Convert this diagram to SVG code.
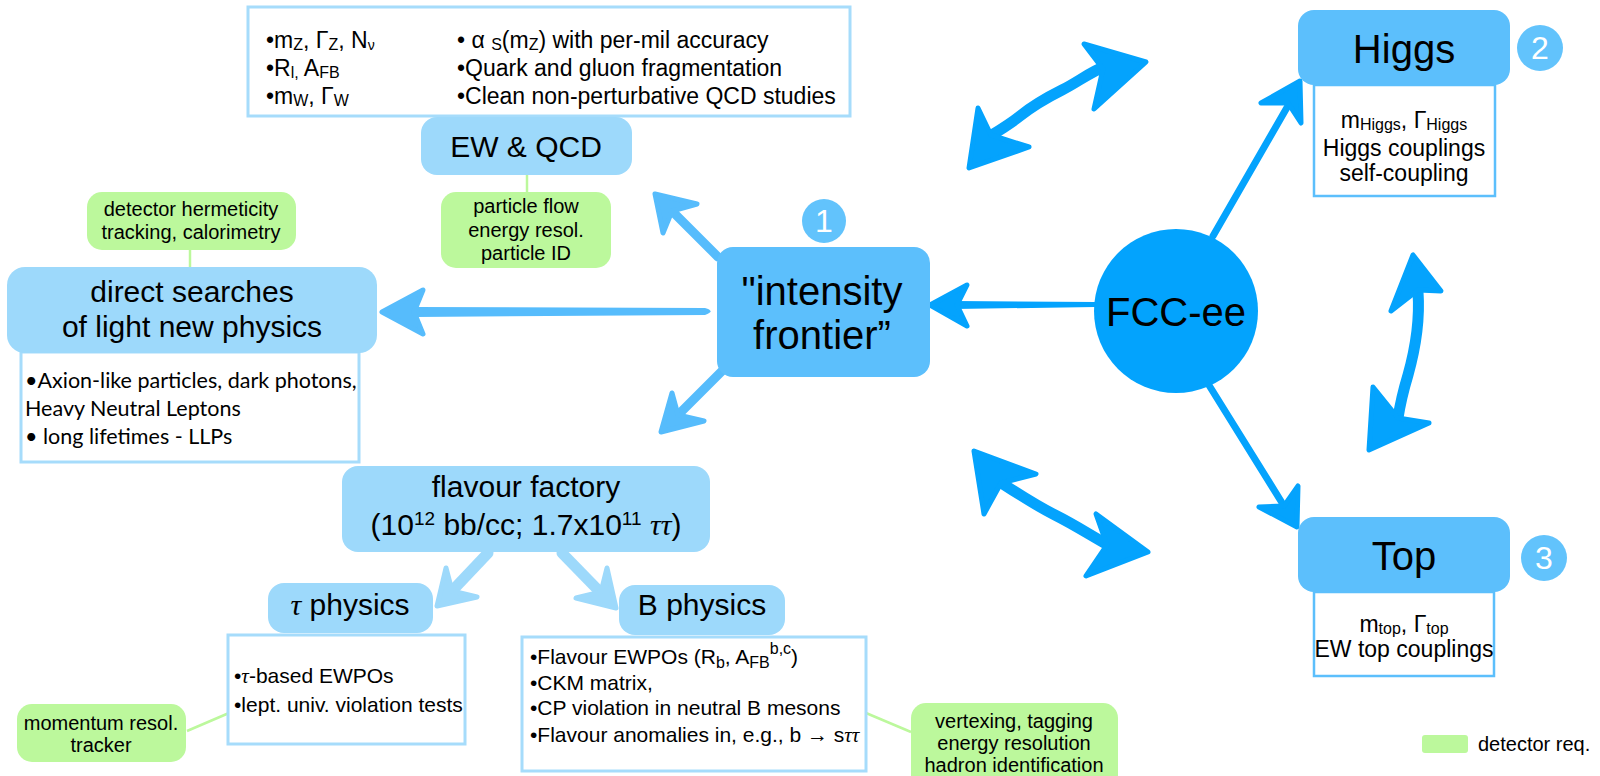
<svg xmlns="http://www.w3.org/2000/svg" width="1600" height="776" viewBox="0 0 1600 776">
<style>
  .t { font-family: "Liberation Sans", Arial, sans-serif; fill: #000; }
  .c { text-anchor: middle; }
  .gk { font-family: "Liberation Serif", "Times New Roman", serif; font-style: italic; }
  .lb { fill: #9dd9fb; }
  .mb { fill: #5cbffc; }
  .gr { fill: #bcf89c; }
  .det { fill: #fff; stroke: #a6dcfb; stroke-width: 3; }
  .det2 { fill: #fff; stroke: #5cbffc; stroke-width: 2.5; }
  .num { fill: #62c3fc; }
  .numt { font-family: "Liberation Sans", Arial, sans-serif; fill: #fff; font-size: 32px; text-anchor: middle; }
  .gl { stroke: #bcf89c; stroke-width: 2.5; fill: none; }
  .s1 { stroke: #56bcfc; stroke-width: 9; stroke-linecap: round; fill: none; }
  .h1 { fill: #56bcfc; stroke: #56bcfc; stroke-width: 5; stroke-linejoin: round; }
  .s2 { stroke: #04a3fd; stroke-width: 7; stroke-linecap: round; fill: none; }
  .s2w { stroke: #04a3fd; stroke-width: 11; stroke-linecap: round; stroke-linejoin: round; fill: none; }
  .h2 { fill: #04a3fd; stroke: #04a3fd; stroke-width: 5; stroke-linejoin: round; }
  .s3 { stroke: #9dd9fb; stroke-width: 11; stroke-linecap: round; fill: none; }
  .h3 { fill: #9dd9fb; stroke: #9dd9fb; stroke-width: 5; stroke-linejoin: round; }
</style>

<g id="connectors">
  <!-- detector requirement links -->
  <line class="gl" x1="527" y1="175" x2="527" y2="192"/>
  <line class="gl" x1="190" y1="250" x2="190" y2="267"/>
  <line class="gl" x1="187" y1="731" x2="229" y2="713"/>
  <line class="gl" x1="866" y1="713" x2="911" y2="732"/>

  <!-- intensity frontier -> direct searches -->
  <path d="M416,307 L705,308 Q716,311 705,315 L416,317 Z" fill="#56bcfc"/>
  <polygon class="h1" points="382,312 423,290 414,312 423,334"/>
  <!-- intensity frontier -> EW & QCD -->
  <line class="s1" x1="718" y1="257" x2="672" y2="211"/>
  <polygon class="h1" points="655,194 697,204 672,211 663,233"/>
  <!-- intensity frontier -> flavour -->
  <line class="s1" x1="722" y1="371" x2="677" y2="416"/>
  <polygon class="h1" points="661,432 672,393 678,415 704,421"/>

  <!-- FCC-ee -> intensity frontier -->
  <path d="M955,301 L1095,302 Q1100,305 1095,307 L955,309 Z" fill="#04a3fd"/>
  <polygon class="h2" points="930,305 967,285 957,305 967,326"/>
  <!-- FCC-ee -> Higgs -->
  <line class="s2" x1="1213" y1="236" x2="1289" y2="104"/>
  <polygon class="h2" points="1300,81 1261,103 1288,103 1301,123"/>
  <!-- FCC-ee -> Top -->
  <line class="s2" x1="1207" y1="382" x2="1284" y2="506"/>
  <polygon class="h2" points="1297,527 1259,507 1284,506 1298,486"/>

  <!-- double arrow upper (intensity <-> Higgs) -->
  <path class="s2w" d="M987,138 C1000,130 1010,124 1020,116 C1035,104 1050,96 1062,90 C1078,82 1090,72 1106,66"/>
  <polygon class="h2" points="969,168 978,108 991,135 1029,147"/>
  <polygon class="h2" points="1146,62 1084,44 1103,69 1094,109"/>
  <!-- double arrow lower (intensity <-> Top) -->
  <path class="s2w" d="M1000,482 C1020,495 1035,505 1055,515 C1075,525 1090,535 1108,545"/>
  <polygon class="h2" points="974,451 1036,474 1001,483 984,514"/>
  <polygon class="h2" points="1148,552 1096,514 1107,545 1086,576"/>
  <!-- double arrow vertical (Higgs <-> Top) -->
  <path class="s2w" d="M1418,292 C1420,320 1415,350 1408,375 C1402,395 1400,405 1398,418"/>
  <polygon class="h2" points="1413,255 1391,311 1418,290 1441,291"/>
  <polygon class="h2" points="1369,450 1373,387 1398,418 1429,423"/>

  <!-- flavour -> tau physics -->
  <line class="s3" x1="488" y1="553" x2="452" y2="591"/>
  <polygon class="h3" points="437,606 446,568 452,591 477,597"/>
  <!-- flavour -> B physics -->
  <line class="s3" x1="562" y1="553" x2="601" y2="593"/>
  <polygon class="h3" points="616,608 576,598 601,592 607,568"/>
</g>

<g id="ew-details">
  <rect class="det" x="248" y="7" width="602" height="109"/>
  <text class="t" font-size="23" x="266" y="48">•m<tspan font-size="16" dy="2">Z</tspan><tspan dy="-2">, Γ</tspan><tspan font-size="16" dy="2">Z</tspan><tspan dy="-2">, N</tspan><tspan font-size="14" dy="2">ν</tspan></text>
  <text class="t" font-size="23" x="266" y="76">•R<tspan font-size="16" dy="2">l,</tspan><tspan dy="-2"> A</tspan><tspan font-size="16" dy="2">FB</tspan></text>
  <text class="t" font-size="23" x="266" y="104">•m<tspan font-size="16" dy="2">W</tspan><tspan dy="-2">, Γ</tspan><tspan font-size="16" dy="2">W</tspan></text>
  <text class="t" font-size="23" x="457" y="48">• α <tspan font-size="16" dy="2">S</tspan><tspan dy="-2">(m</tspan><tspan font-size="16" dy="2">Z</tspan><tspan dy="-2">) with per-mil accuracy</tspan></text>
  <text class="t" font-size="23" x="457" y="76">•Quark and gluon fragmentation</text>
  <text class="t" font-size="23" x="457" y="104">•Clean non-perturbative QCD studies</text>
</g>

<g id="ew-qcd">
  <rect class="lb" x="421" y="117" width="211" height="58" rx="16"/>
  <text class="t c" font-size="30" x="526" y="157">EW &amp; QCD</text>
</g>

<g id="req-ew">
  <rect class="gr" x="441" y="192" width="170" height="76" rx="15"/>
  <text class="t c" font-size="20" x="526" y="213">particle flow</text>
  <text class="t c" font-size="20" x="526" y="237">energy resol.</text>
  <text class="t c" font-size="20" x="526" y="260">particle ID</text>
</g>

<g id="req-direct">
  <rect class="gr" x="87" y="192" width="209" height="58" rx="15"/>
  <text class="t c" font-size="20" x="191" y="216">detector hermeticity</text>
  <text class="t c" font-size="20" x="191" y="239">tracking, calorimetry</text>
</g>

<g id="direct-searches">
  <rect class="det" x="21" y="352" width="338" height="110"/>
  <rect class="lb" x="7" y="267" width="370" height="86" rx="18"/>
  <text class="t c" font-size="30" x="192" y="302">direct searches</text>
  <text class="t c" font-size="30" x="192" y="337">of light new physics</text>
  <text font-family="Lato, 'Open Sans', sans-serif" font-size="21.5" x="25" y="388">•Axion-like particles, dark photons,</text>
  <text font-family="Lato, 'Open Sans', sans-serif" font-size="21.5" x="25" y="416">Heavy Neutral Leptons</text>
  <text font-family="Lato, 'Open Sans', sans-serif" font-size="21.5" x="25" y="444">• long lifetimes - LLPs</text>
</g>

<g id="intensity-frontier">
  <rect class="mb" x="717" y="247" width="213" height="130" rx="16"/>
  <text class="t c" font-size="40" x="822" y="305">"intensity</text>
  <text class="t c" font-size="40" x="822" y="349">frontier”</text>
  <circle class="num" cx="824" cy="221" r="22"/>
  <text class="numt" x="824" y="232">1</text>
</g>

<g id="fcc-ee">
  <circle cx="1176" cy="311" r="82" fill="#03a3fd"/>
  <text class="t c" font-size="40" x="1176" y="326">FCC-ee</text>
</g>

<g id="higgs">
  <rect class="det2" x="1314" y="85" width="181" height="111"/>
  <rect class="mb" x="1298" y="10" width="212" height="75" rx="16"/>
  <text class="t c" font-size="40" x="1404" y="63">Higgs</text>
  <text class="t c" font-size="23" x="1404" y="128">m<tspan font-size="16" dy="2">Higgs</tspan><tspan dy="-2">, Γ</tspan><tspan font-size="16" dy="2">Higgs</tspan></text>
  <text class="t c" font-size="23" x="1404" y="156">Higgs couplings</text>
  <text class="t c" font-size="23" x="1404" y="181">self-coupling</text>
  <circle class="num" cx="1540" cy="48" r="23"/>
  <text class="numt" x="1540" y="59">2</text>
</g>

<g id="top">
  <rect class="det2" x="1314" y="592" width="180" height="84"/>
  <rect class="mb" x="1298" y="517" width="212" height="75" rx="16"/>
  <text class="t c" font-size="40" x="1404" y="570">Top</text>
  <text class="t c" font-size="23" x="1404" y="632">m<tspan font-size="16" dy="2">top</tspan><tspan dy="-2">, Γ</tspan><tspan font-size="16" dy="2">top</tspan></text>
  <text class="t c" font-size="23" x="1404" y="657">EW top couplings</text>
  <circle class="num" cx="1544" cy="558" r="23"/>
  <text class="numt" x="1544" y="569">3</text>
</g>

<g id="flavour-factory">
  <rect class="lb" x="342" y="466" width="368" height="86" rx="16"/>
  <text class="t c" font-size="30" x="526" y="497">flavour factory</text>
  <text class="t c" font-size="30" x="526" y="535">(10<tspan font-size="19" dy="-10">12</tspan><tspan dy="10"> bb/cc; 1.7x10</tspan><tspan font-size="19" dy="-10">11</tspan><tspan dy="10"> </tspan><tspan class="gk">ττ</tspan>)</text>
</g>

<g id="tau-physics">
  <rect class="det" x="228" y="635" width="237" height="109"/>
  <rect class="lb" x="268" y="583" width="165" height="50" rx="16"/>
  <text class="t c" font-size="30" x="350" y="615"><tspan class="gk">τ</tspan> physics</text>
  <text class="t" font-size="21" x="234" y="683">•<tspan class="gk">τ</tspan>-based EWPOs</text>
  <text class="t" font-size="21" x="234" y="712">•lept. univ. violation tests</text>
</g>

<g id="req-tau">
  <rect class="gr" x="17" y="704" width="169" height="58" rx="15"/>
  <text class="t c" font-size="20" x="101" y="730">momentum resol.</text>
  <text class="t c" font-size="20" x="101" y="752">tracker</text>
</g>

<g id="b-physics">
  <rect class="det" x="522" y="637" width="344" height="134"/>
  <rect class="lb" x="619" y="585" width="166" height="50" rx="16"/>
  <text class="t c" font-size="30" x="702" y="615">B physics</text>
  <text class="t" font-size="21" x="530" y="664">•Flavour EWPOs (R<tspan font-size="16" dy="4">b</tspan><tspan dy="-4">, A</tspan><tspan font-size="16" dy="4">FB</tspan><tspan font-size="16" dy="-14">b,c</tspan><tspan dy="10">)</tspan></text>
  <text class="t" font-size="21" x="530" y="690">•CKM matrix,</text>
  <text class="t" font-size="21" x="530" y="715">•CP violation in neutral B mesons</text>
  <text class="t" font-size="21" x="530" y="742">•Flavour anomalies in, e.g., b → s<tspan class="gk">ττ</tspan></text>
</g>

<g id="req-b">
  <rect class="gr" x="911" y="703" width="207" height="90" rx="15"/>
  <text class="t c" font-size="20" x="1014" y="728">vertexing, tagging</text>
  <text class="t c" font-size="20" x="1014" y="750">energy resolution</text>
  <text class="t c" font-size="20" x="1014" y="772">hadron identification</text>
</g>

<g id="legend">
  <rect class="gr" x="1422" y="735" width="46" height="18" rx="3"/>
  <text class="t" font-size="20" x="1478" y="751">detector req.</text>
</g>
</svg>
